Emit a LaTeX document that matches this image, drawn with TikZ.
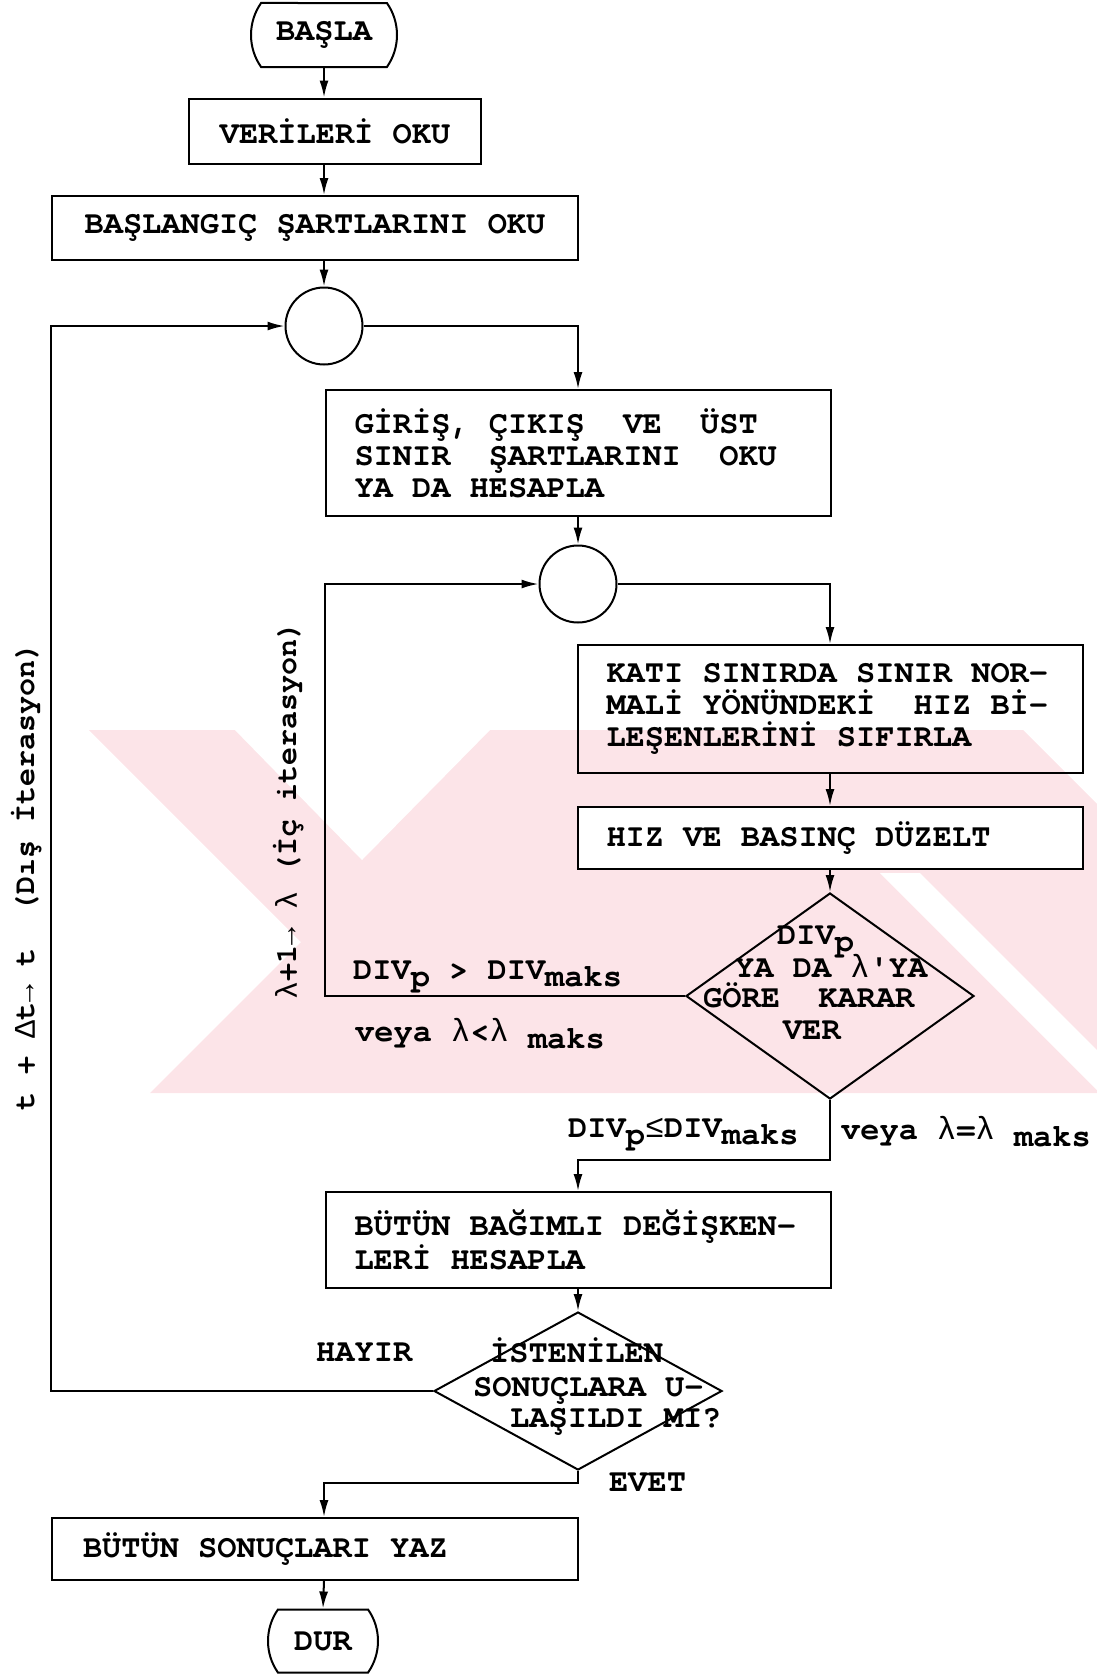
\documentclass[tikz,border=0pt]{standalone}
\usepackage{fontspec}
\newfontfamily\daktilo{TeX Gyre Cursor}
\newfontfamily\ozel{Liberation Mono}
\usetikzlibrary{positioning,shapes.geometric,shapes.misc,arrows.meta}

\definecolor{filigran}{RGB}{252,228,232}
\newcommand{\yazi}{\daktilo\bfseries\fontsize{32}{32}\selectfont}
\newcommand{\asagi}[1]{\raisebox{-0.5ex}{#1}}
\newcommand{\lmb}{{\ozel\mdseries λ}}
\newcommand{\dlt}{{\ozel\mdseries Δ}}
\newcommand{\sagok}{{\ozel\mdseries →}}
\newcommand{\kucukesit}{{\ozel\mdseries ≤}}

\tikzset{
  akis/.style={line width=2pt},
  ok/.style={akis, -{Latex[length=17pt,width=9pt]}},
  kutu/.style={draw, line width=2pt, rectangle, font=\yazi, inner ysep=0pt},
  metinkutu/.style={kutu, align=left, text width=447pt, inner xsep=29pt,
    execute at begin node={\spaceskip=0pt\xspaceskip=0pt}},
  uc/.style={draw, line width=2pt, rounded rectangle, rounded rectangle arc length=70, font=\yazi, inner sep=0pt},
  baglanti/.style={draw, line width=2pt, circle, minimum size=77pt, inner sep=0pt},
  karar/.style={draw, line width=2pt, diamond, inner sep=0pt, minimum width=288pt},
  etiket/.style={font=\yazi, inner sep=0pt, anchor=base west},
  dikey/.style={font=\daktilo\bfseries\fontsize{30}{30}\selectfont, inner sep=0pt, rotate=90},
}

\begin{document}
\begin{tikzpicture}[x=1pt,y=-1pt]
\useasboundingbox (0,0) rectangle (1097,1676);

% FILIGRAN
\begin{scope}
\clip (0,0) rectangle (1097,1676);
\fill[filigran] (89,730) -- (1023,730) -- (1097,804) -- (1097,1093) -- (150,1093) -- (301,942) -- cycle;
\fill[white] (232,727) -- (362,860) -- (493,727) -- cycle;
\fill[white] (880,873) -- (920,873) -- (1140,1093) -- (1100,1093) -- cycle;
\end{scope}

% KOLON
\coordinate (sol) at (324,0);

% KUTULAR
\node[uc, minimum width=146pt, minimum height=64pt] (basla) at (324,35) {BAŞLA};
\node[kutu, minimum width=292pt, minimum height=65pt] (veri) at (335,131) {VERİLERİ OKU};
\node[kutu, minimum width=526pt, minimum height=64pt] (baslangic) at (315,228) {BAŞLANGIÇ ŞARTLARINI OKU};
\node[baglanti] (c1) at (324,326) {};
\node[metinkutu, minimum height=126pt] (giris) at (578,453) {GİRİŞ, ÇIKIŞ~~VE~~ÜST\\SINIR~~ŞARTLARINI~~OKU\\YA DA HESAPLA};
\node[baglanti] (c2) at (578,584) {};
\node[metinkutu, minimum height=128pt] (kati) at (830,709) {KATI SINIRDA SINIR NOR-\\MALİ YÖNÜNDEKİ~~HIZ Bİ-\\LEŞENLERİNİ SIFIRLA};
\node[metinkutu, minimum height=62pt, fill=white] (duzelt) at (830,838) {HIZ VE BASINÇ DÜZELT};
\node[karar, minimum height=206pt] (karar1) at (830,996) {};
\node[metinkutu, minimum height=96pt] (bagimli) at (578,1240) {BÜTÜN BAĞIMLI DEĞİŞKEN-\\LERİ HESAPLA};
\node[karar, minimum height=158pt] (karar2) at (578,1391) {};
\node[kutu, minimum width=526pt, minimum height=62pt, align=left, text width=464pt, inner xsep=31pt,
  execute at begin node={\spaceskip=0pt\xspaceskip=0pt}] (yaz) at (315,1549) {BÜTÜN SONUÇLARI YAZ};
\node[uc, minimum width=110pt, minimum height=63pt] (dur) at (323,1641) {DUR};

% KARAR METINLERI
\node[etiket] (k1a) at (777,944) {DIV\asagi{p}};
\node[etiket] (k1b) at (735,977) {YA DA \lmb\textquotesingle YA};
\node[etiket] (k1c) at (703,1007) {GÖRE~~KARAR};
\node[etiket] (k1d) at (783,1039) {VER};
\node[etiket] (k2a) at (490,1362) {İSTENİLEN};
\node[etiket] (k2b) at (473,1396) {SONUÇLARA U-};
\node[etiket] (k2c) at (510,1427) {LAŞILDI MI?};

% ETIKETLER
\node[etiket] (e1) at (353,979) {DIV\asagi{p} > DIV\asagi{maks}};
\node[etiket] (e2) at (355,1041) {veya \lmb<\lmb{} \asagi{maks}};
\node[etiket] (e3) at (568,1137) {DIV\asagi{p}\kucukesit DIV\asagi{maks}};
\node[etiket] (e4) at (841,1139) {veya \lmb=\lmb{} \asagi{maks}};
\node[etiket] (hayir) at (316,1361) {HAYIR};
\node[etiket] (evet) at (609,1491) {EVET};
\node[dikey] (dis) at (27,876) {t + \dlt t\sagok{} t~~(Dış İterasyon)};
\node[dikey] (ic) at (289,810) {\lmb+1\sagok{} \lmb{} (İç iterasyon)};

% OKLAR
\draw[ok] (basla.south) -- (veri.north -| basla.south);
\draw[ok] (veri.south -| sol) -- (baslangic.north -| sol);
\draw[ok] (baslangic.south -| sol) -- (c1.north);
\draw[ok] (c1.east) -| (giris.north);
\draw[ok] (giris.south -| c2) -- (c2.north);
\draw[ok] (c2.east) -| (kati.north);
\draw[ok] (kati.south) -- (duzelt.north);
\draw[ok] (duzelt.south) -- (karar1.north);
\draw[ok] (karar1.west) -- (karar1.west -| giris.west) |- (c2.west);
\draw[ok] (karar1.south) -- ++(0,60) -| (bagimli.north);
\draw[ok] (bagimli.south) -- (karar2.north);
\draw[ok] (karar2.west) -- (karar2.west -| baslangic.west) |- (c1.west);
\draw[ok] (karar2.south) -- ++(0,12) -| (yaz.north -| sol);
\draw[ok] (yaz.south -| sol) -- (dur.north);

\end{tikzpicture}
\end{document}
